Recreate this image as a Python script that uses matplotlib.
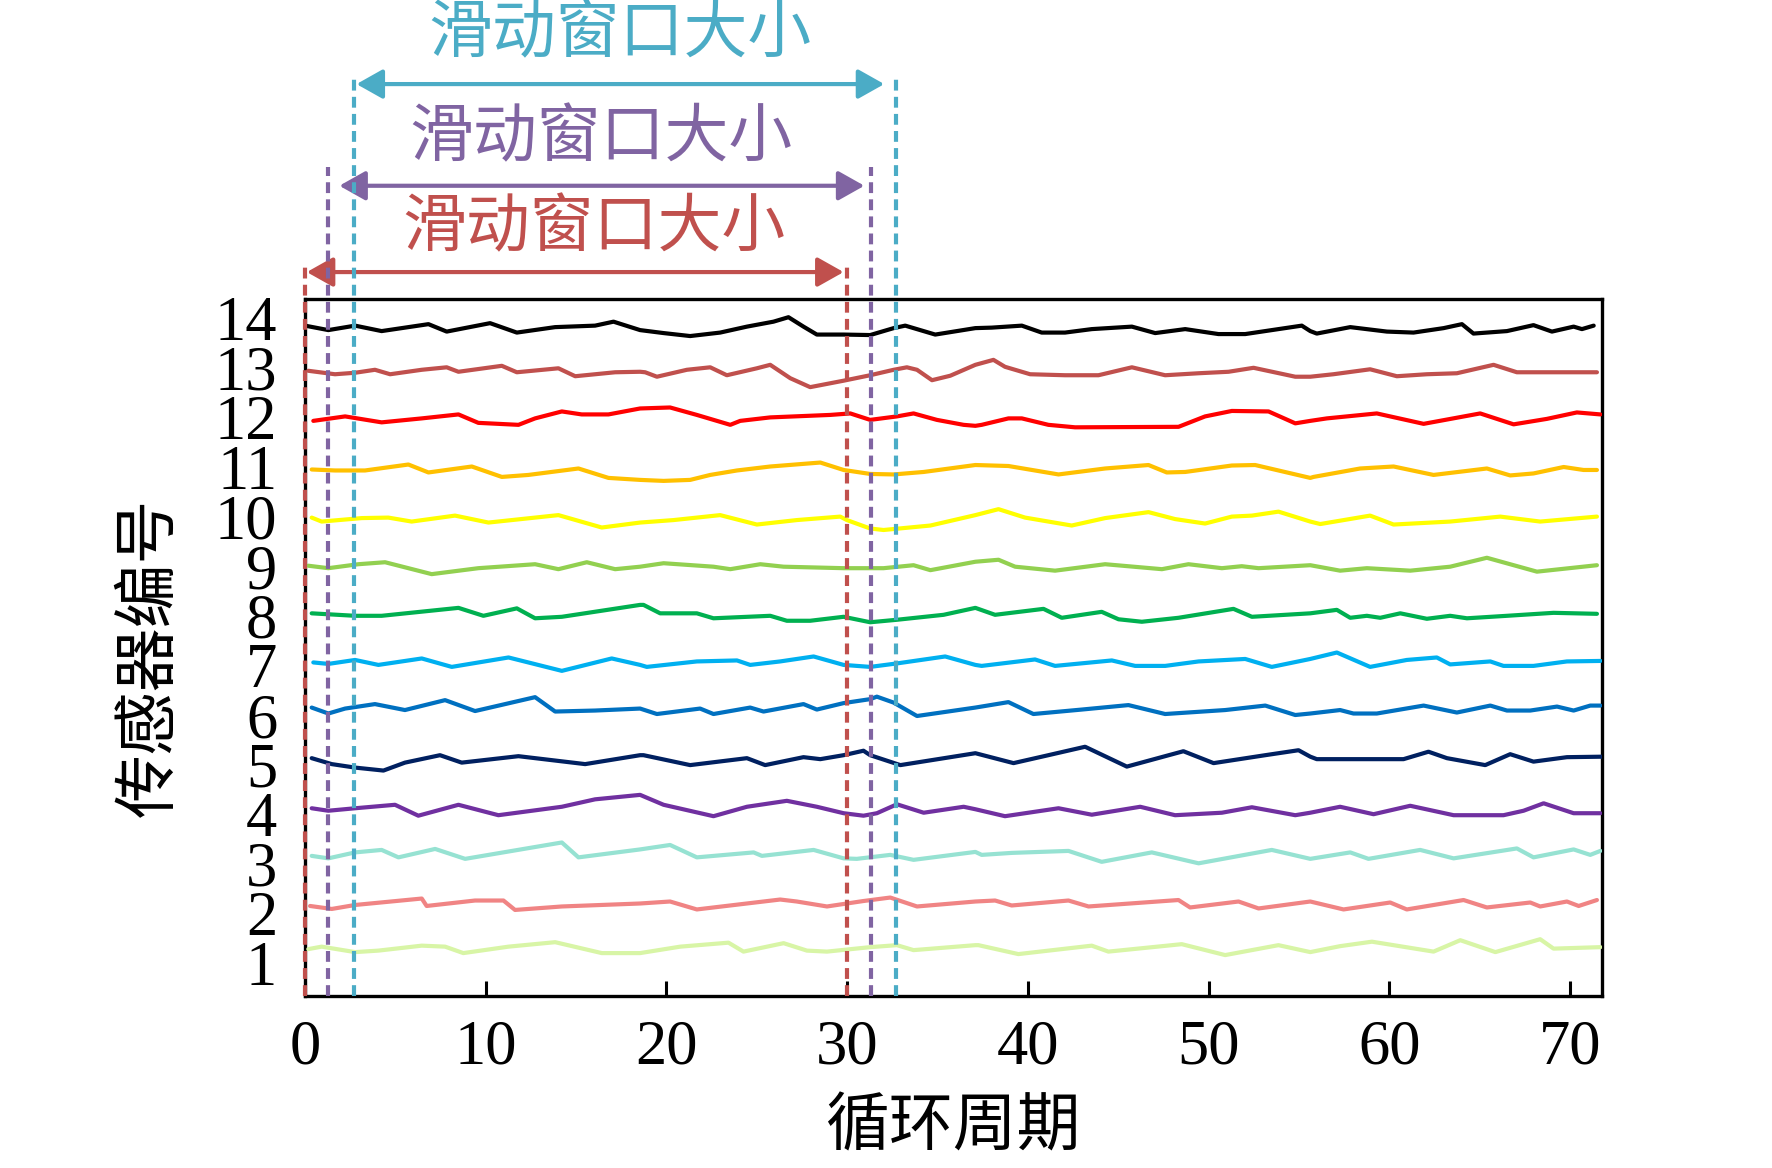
import matplotlib
matplotlib.use("Agg")
import matplotlib.pyplot as plt

# ---------------- data ----------------
sensor_ids = list(range(1, 15))
xticks = [0, 10, 20, 30, 40, 50, 60, 70]

s14_x = [0.0, 1.29, 2.77, 4.24, 6.83, 7.84, 10.24, 11.72, 13.84, 16.05, 17.07, 18.54,
         19.84, 21.31, 22.97, 24.45, 25.92, 26.75, 27.58, 28.32, 29.8, 31.27, 32.57, 33.21, 34.04, 34.87, 37.09,
         38.0, 39.66, 40.76, 42.05, 43.53, 45.75, 47.04, 48.7, 50.54, 52.02, 53.49, 55.15, 55.62,
         55.98, 57.83, 59.86, 61.33, 63.0, 64.01, 64.65, 66.5, 67.97, 68.99, 70.19, 70.65, 71.3]
s14_v = [13.85, 13.76, 13.85, 13.74, 13.88, 13.73, 13.90, 13.71, 13.82, 13.85, 13.93, 13.76,
         13.70, 13.64, 13.71, 13.83, 13.93, 14.02, 13.83, 13.67, 13.67, 13.66, 13.80, 13.85, 13.76, 13.67, 13.80,
         13.81, 13.85, 13.71, 13.71, 13.78, 13.83, 13.70, 13.78, 13.68, 13.68, 13.76, 13.85, 13.74,
         13.69, 13.82, 13.73, 13.71, 13.80, 13.88, 13.69, 13.74, 13.86, 13.73, 13.83, 13.78, 13.85]

s13_x = [0.18, 1.66, 2.77, 3.87, 4.71, 6.46, 7.84, 8.49, 10.89, 11.72, 14.02, 14.95, 17.16, 18.54,
         18.82, 19.47, 21.13, 22.42, 23.34, 25.0, 25.74, 26.85, 27.95, 29.8, 31.27, 32.57, 33.3, 33.86, 34.69, 35.7, 37.09,
         38.09, 38.73, 40.12, 42.05, 43.9, 45.75, 47.59, 49.44, 51.1, 52.48, 54.79, 55.62,
         56.9, 58.93, 60.41, 62.07, 63.73, 65.76, 67.05, 69.08, 71.48]
s13_v = [12.94, 12.87, 12.90, 12.96, 12.87, 12.96, 13.01, 12.92, 13.04, 12.91, 12.99, 12.83, 12.91, 12.92,
         12.91, 12.82, 12.96, 13.01, 12.85, 12.99, 13.06, 12.79, 12.61, 12.74, 12.85, 12.96, 13.01, 12.96, 12.75, 12.84, 13.06,
         13.16, 13.02, 12.87, 12.85, 12.85, 13.01, 12.85, 12.89, 12.92, 13.0, 12.82, 12.82,
         12.87, 12.97, 12.83, 12.87, 12.89, 13.06, 12.91, 12.91, 12.91]

s12_x = [0.46, 2.22, 4.24, 6.46, 8.49, 9.59, 11.81, 12.73, 14.21, 15.31, 16.79, 18.54,
         20.2, 21.68, 23.53, 24.08, 25.74, 29.06, 30.17, 31.27, 32.75, 33.67, 34.96, 36.44, 37.09,
         37.44, 38.92, 39.66, 41.13, 42.61, 48.33, 49.8, 51.28, 53.31, 54.79, 55.62,
         56.54, 59.3, 61.89, 65.02, 66.87, 68.71, 70.37, 71.67]
s12_v = [11.93, 12.02, 11.90, 11.98, 12.06, 11.89, 11.85, 11.98, 12.12, 12.06, 12.06, 12.18,
         12.20, 12.05, 11.85, 11.93, 12.0, 12.05, 12.08, 11.95, 12.02, 12.08, 11.95, 11.85, 11.83,
         11.85, 11.98, 11.98, 11.85, 11.80, 11.81, 12.02, 12.13, 12.12, 11.88, 11.93,
         11.98, 12.08, 11.87, 12.08, 11.86, 11.97, 12.10, 12.06]

s11_x = [0.37, 1.66, 3.32, 5.72, 6.83, 9.23, 10.89, 12.36, 15.13, 16.79, 18.54,
         19.84, 21.31, 22.42, 23.9, 25.74, 28.51, 29.8, 31.27, 32.57, 34.23, 37.09,
         38.92, 41.69, 44.27, 46.67, 47.68, 48.7, 51.28, 52.57, 55.62,
         55.8, 58.38, 60.23, 62.44, 65.39, 66.68, 67.97, 69.64, 70.74, 71.48]
s11_v = [10.95, 10.93, 10.93, 11.05, 10.89, 11.01, 10.80, 10.84, 10.97, 10.78, 10.74,
         10.72, 10.74, 10.84, 10.93, 11.01, 11.09, 10.94, 10.86, 10.85, 10.90, 11.04,
         11.02, 10.85, 10.97, 11.04, 10.89, 10.90, 11.03, 11.04, 10.78,
         10.80, 10.97, 11.01, 10.84, 10.97, 10.83, 10.87, 11.0, 10.94, 10.94]

s10_x = [0.37, 0.92, 3.14, 4.61, 5.9, 8.3, 10.15, 14.02, 16.42, 18.54,
         20.39, 22.97, 25.0, 27.21, 29.61, 29.98, 31.27, 32.01, 34.6, 37.09,
         38.37, 39.84, 42.42, 44.27, 46.67, 48.14, 49.8, 51.28, 52.39, 53.86, 55.62,
         56.17, 58.93, 60.23, 63.36, 66.13, 68.34, 71.48]
s10_v = [9.98, 9.90, 9.97, 9.98, 9.90, 10.02, 9.88, 10.03, 9.78, 9.88,
         9.93, 10.03, 9.84, 9.93, 10.0, 9.93, 9.76, 9.73, 9.82, 10.03,
         10.15, 9.98, 9.82, 9.97, 10.09, 9.95, 9.86, 10.0, 10.02, 10.10, 9.90,
         9.85, 10.02, 9.84, 9.90, 10.0, 9.90, 10.0]

s9_x = [0.18, 1.29, 2.95, 4.43, 7.01, 9.59, 12.73, 14.02, 15.59, 17.16, 18.54,
        19.84, 22.6, 23.53, 25.19, 26.48, 29.8, 32.01, 33.67, 34.6, 37.09,
        38.37, 39.29, 41.5, 44.27, 47.41, 48.88, 50.73, 51.83, 52.76, 55.62,
        57.27, 58.75, 61.15, 63.36, 65.39, 68.16, 71.48]
s9_v = [9.01, 8.96, 9.04, 9.08, 8.84, 8.96, 9.04, 8.94, 9.08, 8.94, 8.99,
        9.06, 8.99, 8.94, 9.04, 8.99, 8.96, 8.96, 9.02, 8.92, 9.09,
        9.13, 8.99, 8.91, 9.04, 8.94, 9.04, 8.96, 9.0, 8.96, 9.02,
        8.91, 8.96, 8.91, 8.99, 9.17, 8.89, 9.02]

s8_x = [0.37, 2.77, 4.24, 8.49, 9.87, 11.72, 12.73, 14.21, 18.54,
        18.73, 19.65, 21.68, 22.6, 25.74, 26.66, 27.95, 29.8, 31.27, 32.75, 35.33, 37.09,
        38.18, 40.86, 41.87, 44.08, 45.01, 46.3, 48.33, 51.37, 52.39, 55.62,
        57.09, 57.83, 58.75, 59.49, 60.6, 62.07, 63.36, 64.29, 66.5, 69.08, 71.48]
s8_v = [8.05, 8.0, 8.0, 8.16, 8.0, 8.15, 7.95, 7.98, 8.22,
        8.22, 8.05, 8.05, 7.95, 8.0, 7.90, 7.90, 7.98, 7.87, 7.92, 8.02, 8.16,
        8.02, 8.14, 7.96, 8.08, 7.93, 7.88, 7.96, 8.14, 7.98, 8.05,
        8.12, 7.96, 8.0, 7.96, 8.05, 7.94, 8.0, 7.95, 8.0, 8.06, 8.04]

s7_x = [0.46, 1.29, 2.77, 4.06, 6.46, 8.12, 11.26, 14.21, 16.97, 18.54,
        18.91, 21.68, 23.9, 24.63, 26.29, 28.14, 29.8, 31.27, 32.75, 35.42, 37.09,
        37.44, 40.39, 41.5, 44.64, 45.93, 47.59, 49.44, 52.02, 53.49, 55.62,
        57.09, 58.93, 60.96, 62.62, 63.36, 65.58, 66.31, 67.97, 69.82, 71.67]
s7_v = [7.06, 7.03, 7.11, 7.01, 7.14, 6.97, 7.16, 6.89, 7.14, 7.01,
        6.97, 7.08, 7.10, 7.01, 7.08, 7.18, 7.01, 6.97, 7.04, 7.18, 7.01,
        6.99, 7.12, 6.99, 7.10, 6.99, 6.99, 7.08, 7.13, 6.97, 7.13,
        7.26, 6.97, 7.11, 7.16, 7.02, 7.08, 6.99, 6.99, 7.08, 7.09]

s6_x = [0.37, 1.29, 2.22, 3.87, 5.53, 7.75, 9.41, 12.73, 13.84, 16.05, 18.54,
        19.47, 21.86, 22.6, 24.63, 25.37, 27.58, 28.32, 29.8, 31.27, 31.64, 32.57, 33.86, 37.09,
        38.92, 40.3, 42.98, 45.56, 47.59, 50.91, 53.13, 54.79, 55.62,
        57.27, 58.01, 59.3, 61.89, 63.73, 65.58, 66.5, 67.79, 69.27, 70.19, 71.11, 71.67]
s6_v = [6.15, 6.03, 6.13, 6.22, 6.10, 6.30, 6.08, 6.36, 6.07, 6.09, 6.13,
        6.02, 6.13, 6.02, 6.15, 6.07, 6.22, 6.11, 6.24, 6.32, 6.37, 6.25, 5.98, 6.15,
        6.26, 6.02, 6.11, 6.20, 6.02, 6.10, 6.19, 6.0, 6.03,
        6.10, 6.03, 6.03, 6.19, 6.05, 6.19, 6.09, 6.09, 6.17, 6.09, 6.19, 6.19]

s5_x = [0.37, 1.48, 2.77, 4.34, 5.53, 7.47, 8.67, 11.81, 15.5, 18.54,
        18.73, 21.31, 24.45, 25.46, 27.58, 28.51, 29.8, 30.9, 31.27, 32.94, 37.09,
        39.2, 41.13, 43.16, 45.47, 48.6, 50.27, 53.13, 54.97, 55.62,
        55.98, 60.78, 62.16, 63.18, 65.3, 66.68, 67.97, 69.82, 71.85]
s5_v = [5.13, 5.01, 4.94, 4.88, 5.04, 5.19, 5.04, 5.17, 5.01, 5.19,
        5.19, 4.99, 5.13, 4.99, 5.15, 5.11, 5.19, 5.28, 5.19, 4.99, 5.23,
        5.03, 5.19, 5.36, 4.96, 5.27, 5.03, 5.19, 5.29, 5.16,
        5.11, 5.11, 5.26, 5.13, 4.99, 5.21, 5.06, 5.15, 5.16]

s4_x = [0.37, 1.29, 2.77, 4.98, 6.27, 8.49, 10.7, 14.21, 16.05, 18.54,
        19.84, 22.6, 24.45, 26.66, 28.32, 29.8, 30.9, 31.64, 32.75, 34.23, 36.44, 37.09,
        38.73, 41.69, 43.53, 46.21, 48.14, 50.73, 52.39, 54.79, 55.62,
        57.27, 59.12, 61.15, 63.55, 66.31, 67.42, 68.53, 70.19, 71.67]
s4_v = [4.12, 4.07, 4.12, 4.19, 3.97, 4.19, 3.98, 4.15, 4.30, 4.39,
        4.19, 3.96, 4.15, 4.27, 4.15, 4.02, 3.97, 4.02, 4.20, 4.03, 4.15, 4.10,
        3.96, 4.12, 3.99, 4.15, 3.98, 4.03, 4.14, 3.98, 4.03,
        4.15, 4.0, 4.17, 3.98, 3.98, 4.07, 4.22, 4.02, 4.02]

s3_x = [0.37, 1.29, 2.77, 4.24, 5.17, 7.2, 8.86, 14.21, 15.13, 18.54,
        20.2, 21.68, 24.82, 25.28, 28.14, 29.8, 30.53, 32.38, 33.67, 37.09,
        37.44, 39.1, 42.24, 44.08, 46.85, 49.44, 53.49, 55.62,
        57.83, 58.84, 61.7, 63.55, 67.05, 67.97, 70.19, 71.11, 71.67]
s3_v = [3.16, 3.11, 3.23, 3.28, 3.13, 3.30, 3.10, 3.43, 3.13, 3.29,
        3.38, 3.13, 3.23, 3.16, 3.28, 3.11, 3.10, 3.18, 3.08, 3.24,
        3.18, 3.22, 3.26, 3.04, 3.23, 3.01, 3.28, 3.10,
        3.23, 3.10, 3.28, 3.11, 3.31, 3.13, 3.29, 3.18, 3.26]

s2_x = [0.28, 1.48, 2.77, 6.46, 6.73, 9.41, 10.98, 11.62, 14.21, 18.54,
        20.2, 21.68, 26.29, 27.21, 28.88, 30.9, 32.38, 33.86, 37.09,
        38.18, 39.1, 42.24, 43.35, 48.33, 48.97, 51.65, 52.76, 55.62,
        57.46, 60.04, 60.96, 64.1, 65.39, 67.79, 68.34, 69.82, 70.47, 71.48]
s2_v = [2.15, 2.09, 2.17, 2.30, 2.15, 2.26, 2.26, 2.07, 2.14, 2.20,
        2.24, 2.08, 2.28, 2.24, 2.14, 2.25, 2.32, 2.14, 2.24,
        2.26, 2.16, 2.26, 2.14, 2.27, 2.12, 2.24, 2.10, 2.24,
        2.08, 2.22, 2.08, 2.27, 2.12, 2.22, 2.14, 2.24, 2.15, 2.27]

s1_x = [0.18, 0.92, 2.77, 4.06, 6.46, 7.75, 8.76, 11.26, 13.84, 16.42, 18.54,
        20.76, 23.43, 24.26, 26.48, 27.77, 28.88, 31.27, 32.75, 33.67, 37.09,
        37.26, 39.47, 43.53, 44.45, 48.51, 50.91, 53.86, 55.62,
        57.27, 59.03, 62.44, 63.92, 65.86, 68.34, 69.08, 71.67]
s1_v = [1.28, 1.33, 1.22, 1.25, 1.35, 1.33, 1.20, 1.33, 1.42, 1.20, 1.20,
        1.33, 1.41, 1.23, 1.40, 1.25, 1.23, 1.32, 1.36, 1.26, 1.36,
        1.36, 1.18, 1.35, 1.23, 1.38, 1.16, 1.36, 1.22,
        1.34, 1.43, 1.23, 1.46, 1.22, 1.48, 1.29, 1.32]

series_x = [s1_x, s2_x, s3_x, s4_x, s5_x, s6_x, s7_x, s8_x, s9_x, s10_x, s11_x, s12_x, s13_x, s14_x]
series_v = [s1_v, s2_v, s3_v, s4_v, s5_v, s6_v, s7_v, s8_v, s9_v, s10_v, s11_v, s12_v, s13_v, s14_v]
series_colors = ['#D8F5A6', '#F08484', '#96E2D2', '#7030A0', '#002060', '#0070C0', '#00B0F0',
                 '#00B050', '#92D050', '#FFFF00', '#FFC000', '#FF0000', '#C0504D', '#000000']

# sliding windows (start, end) and their colours
window_start = [0.0, 1.3, 2.7]
window_size = 30.0
window_colors = ['#C0504D', '#8064A2', '#4BACC6']
window_label = '滑动窗口大小'

# ---------------- figure ----------------
plt.rcParams['font.family'] = ['Liberation Serif', 'Noto Sans CJK SC', 'DejaVu Sans']
fig = plt.figure(figsize=(17.72, 11.68), dpi=100)
ax = fig.add_axes([305 / 1772, 1 - 996 / 1168, (1602 - 305) / 1772, (996 - 299) / 1168])

for xs, vs, c in zip(series_x, series_v, series_colors):
    ax.plot(xs, vs, color=c, lw=3.0, solid_joinstyle='round', solid_capstyle='round', zorder=3)

ax.set_xlim(0, 71.76)
ax.set_ylim(0.335, 14.387)
ax.set_xticks(xticks)
ax.set_yticks(sensor_ids)
ax.set_xticklabels([str(t) for t in xticks])
ax.set_yticklabels([str(t) for t in sensor_ids])
ax.tick_params(axis='x', direction='in', length=11, width=2.2, pad=17, labelsize=45)
ax.tick_params(axis='y', length=0, pad=20, labelsize=45)
for sp in ax.spines.values():
    sp.set_linewidth(2.4)
    sp.set_color('black')

# dashed window boundaries, arrows and labels (above axes)
dash_top = [15.13, 17.05, 18.9]
arrow_y = [14.93, 16.67, 18.72]
text_y = [15.82, 17.63, 19.73]
text_x = [16.0, 16.4, 17.4]
arrow_left_off = [0.1, 0.6, 0.15]
arrow_right_off = [-0.2, -0.35, -0.65]
for s, c, top, ay, ty, tx, lo, ro in zip(window_start, window_colors, dash_top, arrow_y,
                                         text_y, text_x, arrow_left_off, arrow_right_off):
    e = s + window_size
    for xv in (s, e):
        ax.plot([xv, xv], [0.335, top], color=c, lw=3.0, ls=(0, (2.6, 1.5)),
                clip_on=False, zorder=5)
    ax.annotate('', xy=(e + ro, ay), xytext=(s + lo, ay), xycoords='data',
                annotation_clip=False,
                arrowprops=dict(arrowstyle='<|-|>,head_length=0.8,head_width=0.45',
                                color=c, lw=3, shrinkA=0, shrinkB=0, mutation_scale=20))
    ax.text(tx, ty, window_label, color=c, fontsize=46, ha='center', va='center',
            family=['Noto Sans CJK SC'], clip_on=False)

fig.text(953 / 1772, 1 - 1127 / 1168, '循环周期', fontsize=46, ha='center', va='center',
         family=['Noto Sans CJK SC'])
fig.text(149 / 1772, 1 - 657 / 1168, '传感器编号', fontsize=46, ha='center', va='center',
         rotation=90, family=['Noto Sans CJK SC'])

fig.savefig('out.png', dpi=100)
